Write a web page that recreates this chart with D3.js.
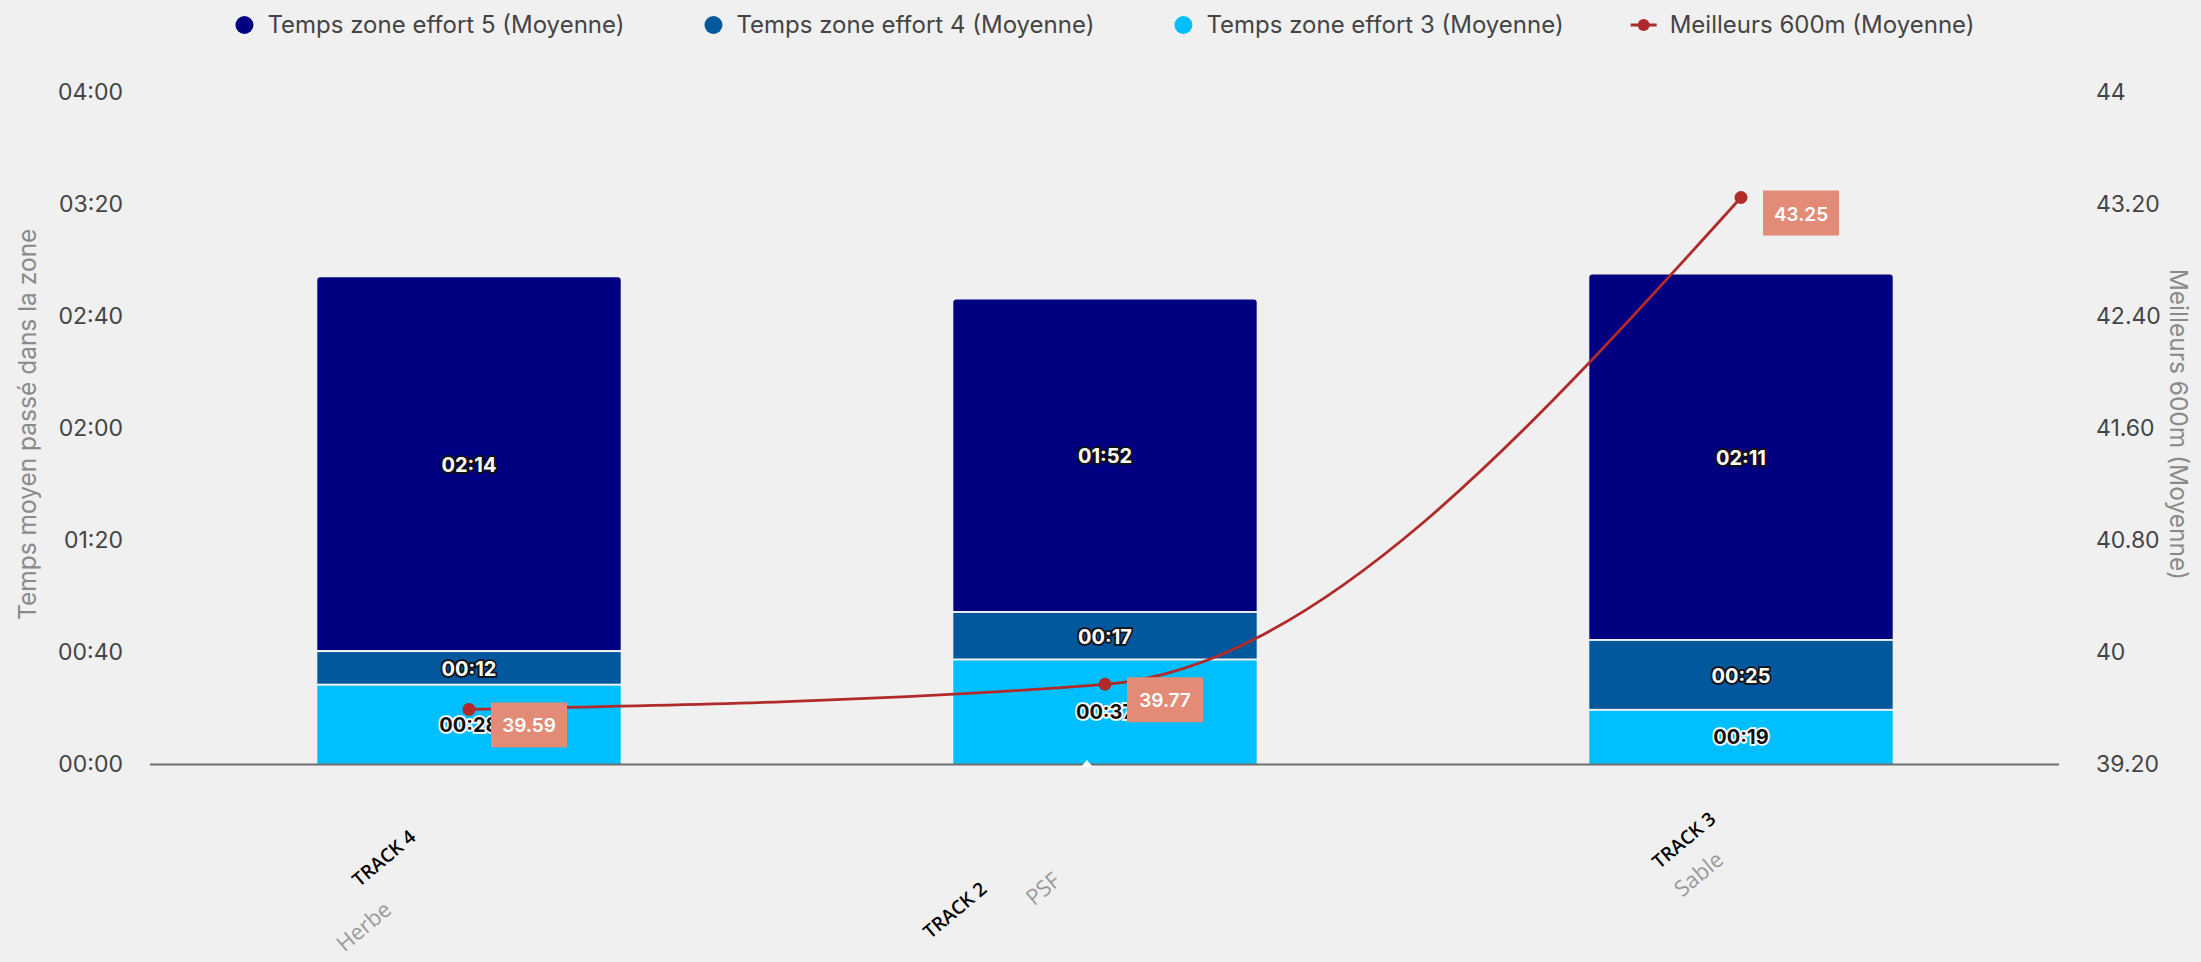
<!DOCTYPE html>
<html>
<head>
<meta charset="utf-8">
<script src="https://d3js.org/d3.v7.min.js"></script>
<style>
    body { margin: 0; background: #f0f0f0; }
    svg { display: block; font-family: Inter, Roboto, sans-serif; }
    .tick text { fill: #444; font-size: 23px; font-family: Inter, Roboto, sans-serif; }
    .segLabel { font: bold 20px Inter, Roboto, sans-serif; paint-order: stroke; text-anchor: middle; dominant-baseline: central; }
</style>
</head>
<body>
<svg width="2201" height="962"></svg>
<script>
// data
const categories = ["Herbe", "PSF", "Sable"];
const trackNames = ["TRACK 4", "TRACK 2", "TRACK 3"];
const zone3 = [28, 37, 19];    // seconds
const zone4 = [12, 17, 25];
const zone5 = [134, 112, 131];
const best600 = [39.59, 39.77, 43.25];
const seriesNames = ["Temps zone effort 5 (Moyenne)", "Temps zone effort 4 (Moyenne)",
                     "Temps zone effort 3 (Moyenne)", "Meilleurs 600m (Moyenne)"];
const leftTicks = [0, 40, 80, 120, 160, 200, 240];
const rightTicks = [39.2, 40, 40.8, 41.6, 42.4, 43.2, 44];
const rightTickLabels = ["39.20", "40", "40.80", "41.60", "42.40", "43.20", "44"];

const colors = ["#000080", "#02589c", "#00bfff"];
const lineColor = "#b02a2a";

const svg = d3.select("svg");
const plotLeft = 151, plotRight = 2059, plotTop = 92.6, base = 764;

const x = d3.scaleBand().domain(categories).range([plotLeft, plotRight])
    .paddingInner(0.523).paddingOuter(0.2615);
const y = d3.scaleLinear().domain([0, 240]).range([base, plotTop]);
const y2 = d3.scaleLinear().domain([39.2, 44]).range([base, plotTop]);
const bw = x.bandwidth();
const cx = c => x(c) + bw / 2;

const pad = n => String(n).padStart(2, "0");
const mmss = s => pad(Math.floor(s / 60)) + ":" + pad(s % 60);

// axes
const gl = svg.append("g").attr("transform", `translate(${plotLeft},0)`)
    .call(d3.axisLeft(y).tickValues(leftTicks).tickFormat(mmss).tickSize(0).tickPadding(28));
gl.select(".domain").remove();

const gr = svg.append("g").attr("transform", `translate(${plotRight},0)`)
    .call(d3.axisRight(y2).tickValues(rightTicks).tickFormat((d, i) => rightTickLabels[i]).tickSize(0).tickPadding(37));
gr.select(".domain").remove();

svg.append("text")
    .attr("transform", `translate(36,${(plotTop + base) / 2 - 4}) rotate(-90)`)
    .attr("text-anchor", "middle")
    .style("font-size", "24.5px").style("fill", "#8a8a8a")
    .text("Temps moyen passé dans la zone");

svg.append("text")
    .attr("transform", `translate(2170,${(plotTop + base) / 2 - 4}) rotate(90)`)
    .attr("text-anchor", "middle")
    .style("font-size", "24.5px").style("fill", "#8a8a8a")
    .text("Meilleurs 600m (Moyenne)");

// stacked bars
const stacks = categories.map((c, i) => {
    const segs = [zone3[i], zone4[i], zone5[i]];
    let acc = 0;
    return segs.map((v, k) => {
        const s = { cat: c, v: v, y0: acc, y1: acc + v, color: colors[2 - k], k: k };
        acc += v;
        return s;
    });
});

const bars = svg.append("g");
stacks.forEach(segs => {
    segs.forEach(s => {
        const x0 = x(s.cat), yt = y(s.y1), yb = y(s.y0) - (s.k > 0 ? 2 : 0);
        if (s.k === 2) {
            const r = 3;
            bars.append("path")
                .attr("d", `M${x0},${yb} V${yt + r} Q${x0},${yt} ${x0 + r},${yt} H${x0 + bw - r} Q${x0 + bw},${yt} ${x0 + bw},${yt + r} V${yb} Z`)
                .attr("fill", s.color);
        } else {
            bars.append("rect")
                .attr("x", x0).attr("y", yt).attr("width", bw).attr("height", yb - yt)
                .attr("fill", s.color);
        }
        bars.append("text").attr("class", "segLabel")
            .attr("x", cx(s.cat)).attr("y", (y(s.y0) + y(s.y1)) / 2)
            .attr("fill", s.k === 0 ? "#111" : "#fff")
            .attr("stroke", s.k === 0 ? "#fff" : "#111")
            .attr("stroke-width", 3.5)
            .text(mmss(s.v));
    });
});

// baseline
svg.append("line").attr("x1", plotLeft - 1).attr("x2", plotRight).attr("y1", base + 0.5).attr("y2", base + 0.5)
    .attr("stroke", "#6f6f6f").attr("stroke-width", 2.2);
// small tooltip caret left under the middle bar
svg.append("path")
    .attr("d", `M${cx(categories[1]) - 24},${base + 3} l6,-7 l6,7 Z`)
    .attr("fill", "#fff");

// line series
const pts = categories.map((c, i) => [cx(c), y2(best600[i])]);
svg.append("path")
    .attr("d", d3.line().curve(d3.curveMonotoneX)(pts))
    .attr("fill", "none").attr("stroke", lineColor).attr("stroke-width", 2.8);
svg.append("g").selectAll("circle").data(pts).join("circle")
    .attr("cx", d => d[0]).attr("cy", d => d[1]).attr("r", 6.5).attr("fill", lineColor);

const boxes = svg.append("g").selectAll("g").data(pts).join("g")
    .attr("transform", d => `translate(${d[0] + 22},${d[1] - 7})`);
boxes.append("rect").attr("width", 76).attr("height", 45).attr("fill", "#e28c78");
boxes.append("text").attr("x", 38).attr("y", 23.5)
    .attr("text-anchor", "middle").attr("dominant-baseline", "central")
    .style("font", "600 19px Inter, Roboto, sans-serif").attr("fill", "#fff")
    .text((d, i) => best600[i].toFixed(2));

// category labels (grey) and track names (black), rotated
const catNudge = [[-76, 148], [-43, 119], [-16, 98]];
const trackNudge = [[-52, 75], [-117, 127], [-24, 57]];
categories.forEach((c, i) => {
    svg.append("text")
        .attr("transform", `translate(${cx(c) + catNudge[i][0]},${base + catNudge[i][1]}) rotate(-40)`)
        .attr("text-anchor", "end")
        .style("font", "22px 'Open Sans', sans-serif").attr("fill", "#9a9a9a")
        .text(c);
    svg.append("text")
        .attr("transform", `translate(${cx(c) + trackNudge[i][0]},${base + trackNudge[i][1]}) rotate(-40)`)
        .attr("text-anchor", "end")
        .style("font", "600 19px 'Open Sans', sans-serif").attr("fill", "#000")
        .text(trackNames[i]);
});

// legend
const legend = svg.append("g");
let lx = 0;
seriesNames.forEach((name, i) => {
    const g = legend.append("g").attr("transform", `translate(${lx},0)`);
    if (i < 3) {
        g.append("circle").attr("cx", 0).attr("cy", 0).attr("r", 9).attr("fill", colors[i]);
    } else {
        g.append("line").attr("x1", -13).attr("x2", 13).attr("stroke", lineColor).attr("stroke-width", 3);
        g.append("circle").attr("r", 6).attr("fill", lineColor);
    }
    const t = g.append("text").attr("x", i < 3 ? 23 : 26).attr("dy", "0.35em")
        .style("font-size", "24px").attr("fill", "#444").text(name);
    lx += (i < 3 ? 23 : 26) + t.node().getComputedTextLength() + (i === 2 ? 80 : 89);
});
const lb = legend.node().getBBox();
legend.attr("transform", `translate(${(plotLeft + plotRight) / 2 - lb.width / 2 + 9},25)`);
</script>
</body>
</html>
